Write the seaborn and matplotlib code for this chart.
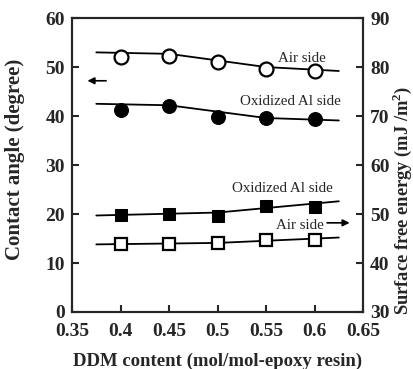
import numpy as np
import pandas as pd
import matplotlib
matplotlib.use("Agg")
import matplotlib.pyplot as plt
import seaborn as sns

# Data
ddm = [0.4, 0.45, 0.5, 0.55, 0.6]
ca_air = [52.0, 52.2, 51.1, 49.6, 49.2]
ca_ox = [41.3, 42.0, 39.9, 39.7, 39.4]
sfe_ox = [49.8, 50.1, 49.6, 51.7, 51.5]
sfe_air = [43.9, 43.8, 44.1, 44.6, 44.7]

fit_x4 = [0.375, 0.45, 0.55, 0.625]
fit_ca_air = [53.0, 52.7, 50.0, 49.2]
fit_ca_ox = [42.5, 42.2, 39.6, 39.1]
fit_x3 = [0.375, 0.5, 0.625]
fit_sfe_ox = [49.7, 50.3, 52.6]
fit_sfe_air = [43.8, 44.1, 45.2]

xticks = [0.35, 0.4, 0.45, 0.5, 0.55, 0.6, 0.65]
xticklabels = ["0.35", "0.4", "0.45", "0.5", "0.55", "0.6", "0.65"]

sns.set_style("ticks")
plt.rcParams['font.family'] = ['Liberation Serif', 'DejaVu Serif']
plt.rcParams['font.weight'] = 'bold'
plt.rcParams['mathtext.fontset'] = 'custom'
plt.rcParams['mathtext.rm'] = 'Liberation Serif:bold'

fig = plt.figure(figsize=(4.14, 3.69), dpi=100)
ax = fig.add_axes([0.174, 0.1545, 0.703, 0.7965])
ax2 = ax.twinx()

# left axis: contact angle
sns.lineplot(x=fit_x4, y=fit_ca_air, ax=ax, color='black', lw=1.3)
sns.lineplot(x=fit_x4, y=fit_ca_ox, ax=ax, color='black', lw=1.3)
sns.lineplot(x=ddm, y=ca_air, ax=ax, color='black', lw=0, marker='o',
             markersize=10, markerfacecolor='white', markeredgecolor='black', markeredgewidth=1.6)
sns.lineplot(x=ddm, y=ca_ox, ax=ax, color='black', lw=0, marker='o',
             markersize=10, markerfacecolor='black', markeredgecolor='black')

# right axis: surface free energy
sns.lineplot(x=fit_x3, y=fit_sfe_ox, ax=ax2, color='black', lw=1.3)
sns.lineplot(x=fit_x3, y=fit_sfe_air, ax=ax2, color='black', lw=1.3)
sns.lineplot(x=ddm, y=sfe_ox, ax=ax2, color='black', lw=0, marker='s',
             markersize=9, markerfacecolor='black', markeredgecolor='black')
sns.lineplot(x=ddm, y=sfe_air, ax=ax2, color='black', lw=0, marker='s',
             markersize=9, markerfacecolor='white', markeredgecolor='black', markeredgewidth=1.6)

ax.set_xlim(0.35, 0.65)
ax.set_ylim(0, 60)
ax2.set_ylim(30, 90)
ax.set_xticks(xticks)
ax.set_xticklabels(xticklabels)
ax.set_yticks([0, 10, 20, 30, 40, 50, 60])
ax2.set_yticks([30, 40, 50, 60, 70, 80, 90])

for a in (ax, ax2):
    a.tick_params(direction='in', length=5, width=1.5, labelsize=14, pad=5)
    for s in a.spines.values():
        s.set_linewidth(1.5)
        s.set_visible(True)
ax.tick_params(axis='x', pad=8)
ax.tick_params(top=False)

ax.set_xlabel("DDM content (mol/mol-epoxy resin)", fontsize=13.5, fontweight='bold', labelpad=9)
ax.set_ylabel("Contact angle (degree)", fontsize=15, fontweight='bold')
ax.yaxis.set_label_coords(-0.162, 0.52)
ax2.set_ylabel("Surface free energy (mJ /m$^2$)", fontsize=13.3, fontweight='bold')
ax2.yaxis.set_label_coords(1.095, 0.38)

# annotations
ax.text(0.587, 51.8, "Air side", fontsize=10.8, fontweight='normal', ha='center', va='center')
ax.text(0.575, 43.0, "Oxidized Al side", fontsize=10.8, fontweight='normal', ha='center', va='center')
ax.text(0.567, 25.2, "Oxidized Al side", fontsize=10.8, fontweight='normal', ha='center', va='center')
ax.text(0.585, 17.6, "Air side", fontsize=10.8, fontweight='normal', ha='center', va='center')
ax.annotate("", xy=(0.363, 47.2), xytext=(0.388, 47.2),
            arrowprops=dict(arrowstyle='-|>', color='black', lw=1.2, mutation_scale=10))
ax.annotate("", xy=(0.639, 18.2), xytext=(0.610, 18.2),
            arrowprops=dict(arrowstyle='-|>', color='black', lw=1.2, mutation_scale=10))

fig.savefig("out.png", dpi=100)
